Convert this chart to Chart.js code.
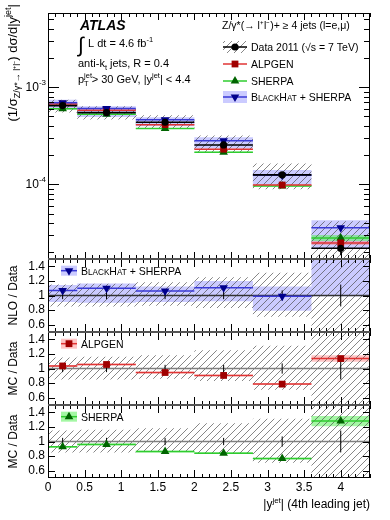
<!DOCTYPE html>
<html>
<head>
<meta charset="utf-8">
<script src="https://cdn.jsdelivr.net/npm/chart.js@4.4.1/dist/chart.umd.min.js"></script>
<style>
  html, body { margin: 0; padding: 0; background: #fff; }
  #wrap { width: 390px; height: 520px; position: relative; }
</style>
</head>
<body>
<div id="wrap"><canvas id="c" width="390" height="520"></canvas></div>
<script>
// bins of |y^jet| of the 4th leading jet
const binEdges = [0, 0.4, 1.2, 2.0, 2.8, 3.6, 4.4];
const binCenters = [0.2, 0.8, 1.6, 2.4, 3.2, 4.0];

// data (1/sigma dsigma/d|y|) and its relative uncertainties
const dataVals = [6.46e-4, 5.47e-4, 4.35e-4, 2.54e-4, 1.25e-4, 2.19e-5];
const dataStat = [0.05, 0.05, 0.05, 0.05, 0.07, 0.15];
const dataSysUp = [0.15, 0.16, 0.18, 0.25, 0.31, 0.9];
const dataSysDn = [0.15, 0.15, 0.14, 0.17, 0.29, 0.7];

// predictions / data
const blackhatRatio = [1.07, 1.10, 1.06, 1.107, 0.99, 1.63];
const blackhatLo = [0.91, 0.90, 0.91, 0.92, 0.79, 0.99];
const blackhatHi = [1.145, 1.165, 1.125, 1.20, 1.125, 1.95];
const alpgenRatio = [1.035, 1.055, 0.945, 0.905, 0.786, 1.136];
const alpgenErr = [0.012, 0.012, 0.012, 0.012, 0.012, 0.045];
const sherpaRatio = [0.927, 0.96, 0.863, 0.84, 0.767, 1.28];
const sherpaErr = [0.012, 0.012, 0.012, 0.012, 0.012, 0.07];

// axes
const xTickLabels = [0, 0.5, 1, 1.5, 2, 2.5, 3, 3.5, 4];
const ratioTickLabels = [0.6, 0.8, 1, 1.2, 1.4];
const mainDecadeLabels = [-3, -4];
const MAIN_MIN = 1.7e-5, MAIN_MAX = 5.8e-3;
const R_MIN = 0.5, R_MAX = 1.5;

const FONT = '"Liberation Sans", Arial, Helvetica, sans-serif';
const COL = {
  alp: '#a00000', alpLine: '#e03535', alpBand: 'rgba(255,110,110,0.40)',
  she: '#006400', sheLine: '#2fcc2f', sheBand: 'rgba(90,240,90,0.55)',
  bh: '#00008c', bhLine: '#3a3ad6', bhBand: 'rgba(130,130,255,0.42)'
};

function hatchPattern() {
  const c = document.createElement('canvas');
  c.width = 7; c.height = 7;
  const g = c.getContext('2d');
  g.strokeStyle = 'rgba(70,70,70,0.72)';
  g.lineWidth = 0.9;
  g.beginPath();
  g.moveTo(-1, 8); g.lineTo(8, -1);
  g.moveTo(-1, 1); g.lineTo(1, -1);
  g.moveTo(6, 8); g.lineTo(8, 6);
  g.stroke();
  return g.createPattern(c, 'repeat');
}
const HATCH = hatchPattern();

const clamp = (v, a, b) => Math.min(b, Math.max(a, v));
const times = (a, b) => a.map((v, i) => v * b[i]);

// continuous step outline (used for bands)
function steps(vals) {
  const out = [];
  vals.forEach((v, i) => out.push({x: binEdges[i], y: v}, {x: binEdges[i + 1], y: v}));
  return out;
}
// separate horizontal segments per bin
function segs(vals) {
  const out = [];
  vals.forEach((v, i) => out.push({x: binEdges[i], y: v}, {x: binEdges[i + 1], y: v}, {x: binEdges[i + 1], y: null}));
  return out;
}
function vbars(lo, hi) {
  const out = [];
  lo.forEach((v, i) => out.push({x: binCenters[i], y: v}, {x: binCenters[i], y: hi[i]}, {x: binCenters[i], y: null}));
  return out;
}
const centers = vals => vals.map((v, i) => ({x: binCenters[i], y: v}));

const datasets = [];
function add(ds) {
  // later datasets are drawn on top
  ds.order = -datasets.length;
  datasets.push(Object.assign({
    type: 'line', pointRadius: 0, borderWidth: 1, borderColor: 'rgba(0,0,0,0)',
    fill: false, spanGaps: false, tension: 0
  }, ds));
}
function band(axis, lo, hi, color, min, max) {
  add({yAxisID: axis, data: steps(lo.map(v => clamp(v, min, max)))});
  add({yAxisID: axis, data: steps(hi.map(v => clamp(v, min, max))), fill: '-1', backgroundColor: color});
}
function stepLine(axis, vals, color, w) {
  add({yAxisID: axis, data: segs(vals), borderColor: color, borderWidth: w});
}
function markers(axis, vals, style, color, r, rot) {
  add({yAxisID: axis, data: centers(vals), showLine: false, pointStyle: style, pointRadius: r,
       pointRotation: rot || 0, pointBackgroundColor: color, pointBorderColor: color, pointBorderWidth: 0});
}

// ---- main panel
const bhMain = times(dataVals, blackhatRatio);
const alpMain = times(dataVals, alpgenRatio);
const sheMain = times(dataVals, sherpaRatio);
band('yMain', times(dataVals, blackhatLo), times(dataVals, blackhatHi), COL.bhBand, MAIN_MIN, MAIN_MAX);
band('yMain', alpMain.map((v, i) => v * (1 - alpgenErr[i])), alpMain.map((v, i) => v * (1 + alpgenErr[i])), COL.alpBand, MAIN_MIN, MAIN_MAX);
band('yMain', sheMain.map((v, i) => v * (1 - sherpaErr[i])), sheMain.map((v, i) => v * (1 + sherpaErr[i])), COL.sheBand, MAIN_MIN, MAIN_MAX);
band('yMain', dataVals.map((v, i) => v * (1 - dataSysDn[i])), dataVals.map((v, i) => v * (1 + dataSysUp[i])), HATCH, MAIN_MIN, MAIN_MAX);
stepLine('yMain', sheMain, COL.sheLine, 1.5);
stepLine('yMain', alpMain, COL.alpLine, 1.5);
stepLine('yMain', bhMain, COL.bhLine, 1.5);
stepLine('yMain', dataVals, '#000', 1.6);
add({yAxisID: 'yMain', data: vbars(dataVals.map((v, i) => v * (1 - dataStat[i])), dataVals.map((v, i) => v * (1 + dataStat[i]))), borderColor: '#000', borderWidth: 1.2});
markers('yMain', sheMain, 'triangle', COL.she, 5);
markers('yMain', alpMain, 'rect', COL.alp, 4.8);
markers('yMain', bhMain, 'triangle', COL.bh, 5, 180);
markers('yMain', dataVals, 'circle', '#000', 3.6);

// ---- ratio panels
function ratioPanel(axis, lo, hi, bandColor, vals, lineColor, style, color, rot, refColor) {
  band(axis, lo, hi, bandColor, R_MIN, R_MAX);
  band(axis, dataSysDn.map(v => 1 - v), dataSysUp.map(v => 1 + v), HATCH, R_MIN, R_MAX);
  add({yAxisID: axis, data: [{x: binEdges[0], y: 1}, {x: binEdges[binEdges.length - 1], y: 1}], borderColor: refColor, borderWidth: 1.6});
  add({yAxisID: axis, data: vbars(dataStat.map(v => 1 - v), dataStat.map(v => 1 + v)), borderColor: '#000', borderWidth: 1});
  stepLine(axis, vals, lineColor, 1.5);
  markers(axis, vals, style, color, style === 'rect' ? 4.8 : 5, rot);
}
ratioPanel('yN', blackhatLo, blackhatHi, COL.bhBand, blackhatRatio, COL.bhLine, 'triangle', COL.bh, 180, '#333');
ratioPanel('yA', alpgenRatio.map((v, i) => v - alpgenErr[i]), alpgenRatio.map((v, i) => v + alpgenErr[i]), COL.alpBand, alpgenRatio, COL.alpLine, 'rect', COL.alp, 0, '#808080');
ratioPanel('yS', sherpaRatio.map((v, i) => v - sherpaErr[i]), sherpaRatio.map((v, i) => v + sherpaErr[i]), COL.sheBand, sherpaRatio, COL.sheLine, 'triangle', COL.she, 0, '#808080');

// ---- drawing helpers
function fnt(size, style) { return (style || '') + ' ' + size + 'px ' + FONT; }
// parts: [text, size, dy, style, noAdvance]
function rich(ctx, x, y, parts, align) {
  let w = 0;
  parts.forEach(p => { ctx.font = fnt(p[1], p[3]); if (!p[4]) w += ctx.measureText(p[0]).width; });
  let cx = align === 'right' ? x - w : align === 'center' ? x - w / 2 : x;
  parts.forEach(p => {
    ctx.font = fnt(p[1], p[3]);
    ctx.fillText(p[0], cx, y + (p[2] || 0));
    if (!p[4]) cx += ctx.measureText(p[0]).width;
  });
}
function mark(ctx, style, x, y, r, color, rot) {
  ctx.fillStyle = color;
  ctx.beginPath();
  if (style === 'circle') {
    ctx.arc(x, y, r, 0, Math.PI * 2);
  } else if (style === 'rect') {
    const s = r * Math.SQRT1_2;
    ctx.rect(x - s, y - s, 2 * s, 2 * s);
  } else {
    let a = (rot || 0) * Math.PI / 180;
    for (let k = 0; k < 3; k++) {
      const px = x + Math.sin(a) * r, py = y - Math.cos(a) * r;
      k ? ctx.lineTo(px, py) : ctx.moveTo(px, py);
      a += Math.PI * 2 / 3;
    }
    ctx.closePath();
  }
  ctx.fill();
}
const BH_TEXT = s => [['B', s], ['LACK', s * 0.78], ['H', s], ['AT', s * 0.78], [' + SHERPA', s]];

// clip every dataset to its own panel
const panelClip = {
  id: 'panelClip',
  beforeDatasetDraw(chart, args) {
    const ys = args.meta.yScale, ca = chart.chartArea;
    chart.ctx.save();
    chart.ctx.beginPath();
    chart.ctx.rect(ca.left, ys.top, ca.right - ca.left, ys.bottom - ys.top);
    chart.ctx.clip();
  },
  afterDatasetDraw(chart) { chart.ctx.restore(); }
};

// frames, inward ticks, texts and legends
const decor = {
  id: 'decor',
  afterDraw(chart) {
    const ctx = chart.ctx, ca = chart.chartArea, xs = chart.scales.x;
    const L = ca.left, R = ca.right;
    ctx.save();
    ctx.lineWidth = 1;
    ctx.strokeStyle = '#000';

    ['yMain', 'yN', 'yA', 'yS'].forEach(id => {
      const s = chart.scales[id];
      const main = id === 'yMain';
      const T = s.top, B = s.bottom;
      ctx.beginPath();
      // x ticks, top and bottom
      xs.ticks.forEach(t => {
        const px = Math.round(xs.getPixelForValue(t.value)) + 0.5;
        const major = Math.abs(t.value * 2 - Math.round(t.value * 2)) < 1e-6;
        const len = main ? (major ? 7 : 4) : (major ? 8 : 4);
        ctx.moveTo(px, T); ctx.lineTo(px, T + len);
        ctx.moveTo(px, B); ctx.lineTo(px, B - len);
      });
      // y ticks, left and right
      if (main) {
        for (let e = -5; e <= -2; e++) {
          for (let k = 1; k <= 9; k++) {
            const v = k * Math.pow(10, e);
            if (v < MAIN_MIN || v > MAIN_MAX) continue;
            const py = Math.round(s.getPixelForValue(v)) + 0.5;
            const len = k === 1 ? 11 : 6;
            ctx.moveTo(L, py); ctx.lineTo(L + len, py);
            ctx.moveTo(R, py); ctx.lineTo(R - len, py);
          }
        }
      } else {
        ratioTickLabels.forEach(v => {
          const py = Math.round(s.getPixelForValue(v)) + 0.5;
          ctx.moveTo(L, py); ctx.lineTo(L + 7, py);
          ctx.moveTo(R, py); ctx.lineTo(R - 7, py);
        });
      }
      ctx.stroke();
    });

    // outer frame and panel separators
    ctx.strokeRect(L + 0.5, ca.top + 0.5, R - L - 1, ca.bottom - ca.top - 1);
    ctx.lineWidth = 2;
    ctx.strokeStyle = '#555';
    ['yN', 'yA', 'yS'].forEach(id => {
      const y = Math.round(chart.scales[id].top);
      ctx.beginPath(); ctx.moveTo(L, y); ctx.lineTo(R, y); ctx.stroke();
    });

    // log axis labels
    ctx.fillStyle = '#000';
    ctx.textBaseline = 'alphabetic';
    const ym = chart.scales.yMain;
    mainDecadeLabels.forEach(e => {
      const py = ym.getPixelForValue(Math.pow(10, e));
      rich(ctx, L - 2, py + 4, [['10', 12], [String(e), 8, -6]], 'right');
    });

    // axis titles
    ctx.save();
    ctx.translate(17, 4);
    ctx.rotate(-Math.PI / 2);
    rich(ctx, 0, 0, [['(1/σ', 13], ['Z/γ*→ l⁺l⁻', 9, 3], [') dσ/d|y', 13], ['jet', 9, -6], ['|', 13]], 'right');
    ctx.restore();
    [['yN', 'NLO / Data'], ['yA', 'MC / Data'], ['yS', 'MC / Data']].forEach(([id, t]) => {
      const s = chart.scales[id];
      ctx.save();
      ctx.translate(17, (s.top + s.bottom) / 2);
      ctx.rotate(-Math.PI / 2);
      rich(ctx, 0, 0, [[t, 12]], 'center');
      ctx.restore();
    });
    rich(ctx, R, 508, [['|y', 12], ['jet', 8, -5], ['| (4th leading jet)', 12]], 'right');

    // ATLAS block
    ctx.font = fnt(14, 'italic bold');
    ctx.fillText('ATLAS', 80, 30);
    ctx.font = fnt(21);
    ctx.fillText('∫', 78, 52);
    rich(ctx, 88, 47, [['L dt = 4.6 fb', 11], ['-1', 7.5, -5]]);
    rich(ctx, 78, 67, [['anti-k', 11], ['t', 7.5, 3], [' jets, R = 0.4', 11]]);
    rich(ctx, 78, 83, [['p', 11], ['jet', 7.5, -5, '', true], ['T', 7.5, 3], [' > 30 GeV, |y', 11], ['jet', 7.5, -5], ['| < 4.4', 11]]);

    // main legend
    rich(ctx, 222, 29, [['Z/γ*(→ l⁺l⁻)+ ≥ 4 jets (l=e,μ)', 10.5]]);
    const lx0 = 223, lx1 = 247, lc = 235, tx = 251;
    const rows = [47, 64, 81, 97];
    // data
    ctx.fillStyle = HATCH;
    ctx.fillRect(lx0, rows[0] - 6, lx1 - lx0, 12);
    ctx.lineWidth = 1.5;
    ctx.strokeStyle = '#000';
    ctx.beginPath(); ctx.moveTo(lx0, rows[0]); ctx.lineTo(lx1, rows[0]); ctx.stroke();
    mark(ctx, 'circle', lc, rows[0], 3.6, '#000');
    // alpgen
    ctx.strokeStyle = COL.alpLine;
    ctx.beginPath(); ctx.moveTo(lx0, rows[1]); ctx.lineTo(lx1, rows[1]); ctx.stroke();
    mark(ctx, 'rect', lc, rows[1], 4.8, COL.alp);
    // sherpa
    ctx.strokeStyle = COL.sheLine;
    ctx.beginPath(); ctx.moveTo(lx0, rows[2]); ctx.lineTo(lx1, rows[2]); ctx.stroke();
    mark(ctx, 'triangle', lc, rows[2], 5, COL.she);
    // blackhat
    ctx.fillStyle = COL.bhBand;
    ctx.fillRect(lx0, rows[3] - 6, lx1 - lx0, 12);
    ctx.strokeStyle = COL.bhLine;
    ctx.beginPath(); ctx.moveTo(lx0, rows[3]); ctx.lineTo(lx1, rows[3]); ctx.stroke();
    mark(ctx, 'triangle', lc, rows[3], 5, COL.bh, 180);
    ctx.fillStyle = '#000';
    rich(ctx, tx, rows[0] + 4, [['Data 2011 (√s = 7 TeV)', 10.5]]);
    rich(ctx, tx, rows[1] + 4, [['ALPGEN', 10.5]]);
    rich(ctx, tx, rows[2] + 4, [['SHERPA', 10.5]]);
    rich(ctx, tx, rows[3] + 4, BH_TEXT(10.5));

    // ratio panel legends
    const pl = [['yN', COL.bhBand, COL.bhLine, 'triangle', COL.bh, 180, BH_TEXT(10.5)],
                ['yA', COL.alpBand, COL.alpLine, 'rect', COL.alp, 0, [['ALPGEN', 10.5]]],
                ['yS', COL.sheBand, COL.sheLine, 'triangle', COL.she, 0, [['SHERPA', 10.5]]]];
    pl.forEach(([id, bc, lcol, st, mc, rot, txt]) => {
      const s = chart.scales[id];
      const y = s.getPixelForValue(1.34);
      ctx.fillStyle = bc;
      ctx.fillRect(L + 13, y - 5, 16, 10);
      ctx.strokeStyle = lcol;
      ctx.lineWidth = 1.5;
      ctx.beginPath(); ctx.moveTo(L + 13, y); ctx.lineTo(L + 29, y); ctx.stroke();
      mark(ctx, st, L + 21, y, st === 'rect' ? 4.8 : 5, mc, rot);
      ctx.fillStyle = '#000';
      rich(ctx, L + 33, y + 4, txt);
    });
    ctx.restore();
  }
};

function ratioAxis(weight) {
  return {
    type: 'linear', position: 'left', stack: 'v', stackWeight: weight,
    min: R_MIN, max: R_MAX,
    grid: {display: false, drawTicks: false}, border: {display: false},
    ticks: {
      stepSize: 0.1, autoSkip: false, padding: 3, color: '#000', font: {family: FONT, size: 12},
      callback: v => ratioTickLabels.some(t => Math.abs(t - v) < 1e-6) ? String(+v.toFixed(1)) : ''
    },
    afterFit: s => { s.width = 48; }
  };
}

new Chart(document.getElementById('c'), {
  type: 'line',
  data: {datasets},
  options: {
    responsive: false,
    animation: false,
    devicePixelRatio: 1,
    layout: {padding: {top: 13, right: 20, left: 0, bottom: 0}},
    plugins: {legend: {display: false}, tooltip: {enabled: false}},
    scales: {
      x: {
        type: 'linear', min: 0, max: 4.4,
        grid: {display: false, drawTicks: false}, border: {display: false},
        ticks: {
          stepSize: 0.1, autoSkip: false, maxRotation: 0, padding: 2, color: '#000',
          font: {family: FONT, size: 12},
          callback: v => xTickLabels.some(t => Math.abs(t - v) < 1e-6) ? String(+v.toFixed(1)) : ''
        },
        afterFit: s => { s.height = 42; }
      },
      yS: ratioAxis(1),
      yA: ratioAxis(1),
      yN: ratioAxis(1),
      yMain: {
        type: 'logarithmic', position: 'left', stack: 'v', stackWeight: 3.37,
        min: MAIN_MIN, max: MAIN_MAX,
        grid: {display: false, drawTicks: false}, border: {display: false},
        ticks: {display: false},
        afterFit: s => { s.width = 48; }
      }
    }
  },
  plugins: [panelClip, decor]
});
</script>
</body>
</html>
